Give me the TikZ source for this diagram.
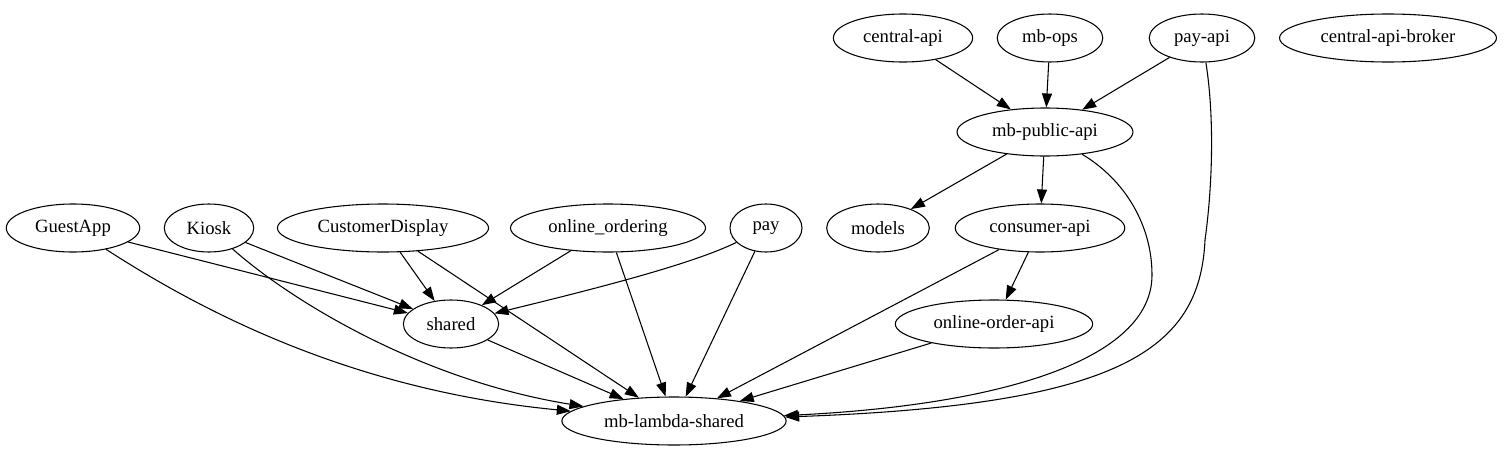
\documentclass[tikz,border=0pt]{standalone}
\usepackage{fontspec}
\setmainfont{Liberation Serif}
\usetikzlibrary{shapes.geometric}
\usetikzlibrary{arrows.meta}

\begin{document}
\begin{tikzpicture}[->,>={Triangle[length=10.5pt,width=7.5pt]},x=0.75pt,y=-0.75pt,line width=0.8pt,
    pkg/.style={draw,ellipse,inner xsep=7pt,inner ysep=4pt,minimum height=36pt,minimum width=54pt,
      font=\fontsize{14}{16}\selectfont}]
          \useasboundingbox (0,0) rectangle (1504,457);

          \node (capi)     [pkg] at (903,38)   {central-api};
          \node (ops)      [pkg] at (1050,38)  {mb-ops};
          \node (payapi)   [pkg] at (1202,38)  {pay-api};
          \node (broker)   [pkg] at (1388,38)  {central-api-broker};
          \node (pub)      [pkg] at (1045,132) {mb-public-api};
          \node (models)   [pkg] at (878,228)  {models};
          \node (consumer) [pkg] at (1040,228) {consumer-api};
          \node (ooapi)    [pkg] at (994,324)  {online-order-api};
          \node (guest)    [pkg] at (73,228)   {GuestApp};
          \node (kiosk)    [pkg] at (209,228)  {Kiosk};
          \node (cdisp)    [pkg] at (383,228)  {CustomerDisplay};
          \node (ordering) [pkg] at (608,228)  {online\_ordering};
          \node (pay)      [pkg] at (766,228)  {pay};
          \node (shared)   [pkg] at (451,324)  {shared};
          \node (lam)      [pkg] at (674,421)  {mb-lambda-shared};

          \coordinate (pubbend) at (1152,275);
          \coordinate (paybend) at (1205,240);

          \path
          (capi) edge (pub)
          (ops) edge (pub)
          (payapi) edge (pub)
          (pub) edge (models) edge (consumer)
          (consumer) edge (ooapi) edge (lam)
          (ooapi) edge (lam)
          (guest) edge (shared)
          (kiosk) edge (shared)
          (cdisp) edge (shared) edge (lam)
          (ordering) edge (shared) edge (lam)
          (pay) edge (lam)
          (shared) edge (lam);

          \draw (pay) .. controls (690,265) and (590,290) .. (shared);
          \draw (guest) .. controls (200,310) and (350,390) .. (lam);
          \draw (kiosk) .. controls (290,300) and (420,380) .. (lam);
          \draw (pub) .. controls (1125,180) and (1152,225) .. (pubbend)
                .. controls (1152,360) and (1000,405) .. (lam);
          \draw (payapi) .. controls (1215,120) and (1212,190) .. (paybend)
                .. controls (1200,350) and (1120,405) .. (lam);
        \end{tikzpicture}
\end{document}
